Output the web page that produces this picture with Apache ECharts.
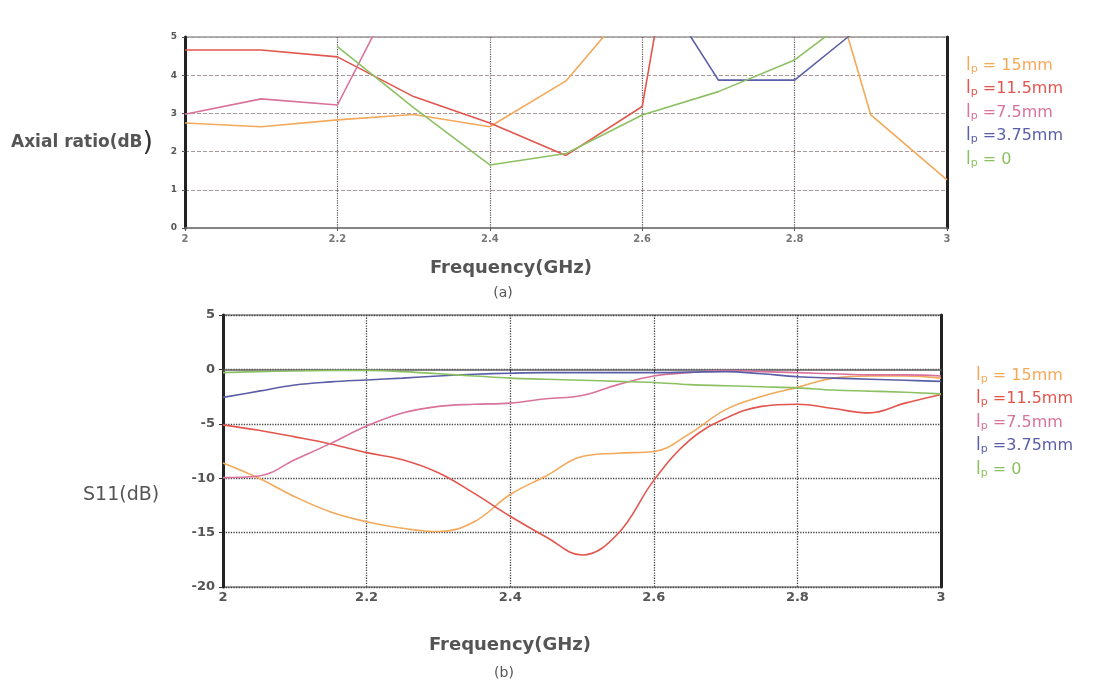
<!DOCTYPE html>
<html><head><meta charset="utf-8">
<script src="https://cdn.jsdelivr.net/npm/echarts@6/dist/echarts.min.js"></script>
<style>html,body{margin:0;padding:0;background:#fff}#c{width:1101px;height:686px}</style>
</head><body><div id="c"></div>
<script>
// Series names / legend labels
const seriesNames = ['lp = 15mm', 'lp =11.5mm', 'lp =7.5mm', 'lp =3.75mm', 'lp = 0'];
const legendSuffix = [' = 15mm', ' =11.5mm', ' =7.5mm', ' =3.75mm', ' = 0'];
const colors = ['#f3a95a', '#e2564e', '#d9729c', '#5a5ea6', '#8dc063'];

// (a) Axial ratio (dB) vs frequency (GHz); values above 5 run off the top of the plot
const arOrangeX = [2, 2.1, 2.2, 2.3, 2.4, 2.5, 2.6, 2.7, 2.8, 2.87, 2.9, 3];
const arOrangeY = [2.75, 2.65, 2.83, 2.97, 2.65, 3.85, 6.2, 6.5, 6.0, 5.0, 2.96, 1.26];
const arRedX = [2, 2.1, 2.2, 2.3, 2.4, 2.5, 2.6, 2.65];
const arRedY = [4.66, 4.66, 4.48, 3.44, 2.75, 1.9, 3.18, 8.9];
const arPinkX = [2, 2.1, 2.2, 2.3];
const arPinkY = [2.98, 3.38, 3.22, 7.1];
const arBlueX = [2.6, 2.7, 2.8, 2.87, 2.9];
const arBlueY = [7.0, 3.87, 3.87, 5.0, 5.4];
const arGreenX = [2.2, 2.3, 2.4, 2.5, 2.6, 2.7, 2.8, 2.9];
const arGreenY = [4.75, 3.15, 1.65, 1.95, 2.96, 3.57, 4.4, 5.9];

// (b) S11 (dB) vs frequency (GHz)
const s11Freq = [2, 2.05, 2.1, 2.15, 2.2, 2.25, 2.3, 2.35, 2.4, 2.45, 2.5, 2.55, 2.6, 2.65, 2.7, 2.75, 2.8, 2.85, 2.9, 2.95, 3];
const s11Orange = [-8.6, -10.0, -11.7, -13.1, -14.0, -14.6, -14.9, -14.0, -11.5, -9.8, -8.0, -7.7, -7.55, -5.9, -3.7, -2.5, -1.65, -0.8, -0.6, -0.6, -0.8];
const s11Red = [-5.1, -5.6, -6.2, -6.85, -7.65, -8.3, -9.5, -11.4, -13.5, -15.4, -17.06, -15.1, -10.2, -6.5, -4.5, -3.4, -3.2, -3.6, -4.0, -3.1, -2.3];
const s11Pink = [-9.95, -9.8, -8.3, -6.8, -5.2, -4.0, -3.4, -3.2, -3.1, -2.7, -2.4, -1.4, -0.6, -0.3, -0.1, -0.2, -0.3, -0.4, -0.5, -0.5, -0.6];
const s11Blue = [-2.57, -2.0, -1.43, -1.15, -0.97, -0.8, -0.6, -0.45, -0.35, -0.3, -0.3, -0.3, -0.3, -0.25, -0.2, -0.4, -0.67, -0.8, -0.9, -1.0, -1.1];
const s11Green = [-0.3, -0.2, -0.15, -0.1, -0.1, -0.2, -0.4, -0.6, -0.8, -0.9, -1.0, -1.1, -1.2, -1.4, -1.5, -1.6, -1.7, -1.9, -2.0, -2.1, -2.25];

// Tick labels
const freqTicks = ['2', '2.2', '2.4', '2.6', '2.8', '3'];

const zip = (xs, ys) => xs.map((x, i) => [x, ys[i]]);
const arX = [arOrangeX, arRedX, arPinkX, arBlueX, arGreenX];
const arY = [arOrangeY, arRedY, arPinkY, arBlueY, arGreenY];
const s11Y = [s11Orange, s11Red, s11Pink, s11Blue, s11Green];

const FONT = 'DejaVu Sans';
const chart = echarts.init(document.getElementById('c'), null, {renderer: 'canvas'});

function legendCfg(left, top) {
  const rich = {};
  colors.forEach((c, i) => {
    rich['l' + i] = {color: c, fontSize: 17, fontFamily: FONT};
    rich['p' + i] = {color: c, fontSize: 11, fontFamily: FONT, verticalAlign: 'bottom', padding: [7, 0, 0, 0]};
    rich['t' + i] = {color: c, fontSize: 16, fontFamily: FONT};
  });
  return {
    orient: 'vertical', left: left, top: top, icon: 'none', itemWidth: 0, itemHeight: 10, itemGap: 6,
    selectedMode: false,
    data: seriesNames.map((n, i) => ({name: n, textStyle: {color: colors[i]}})),
    formatter: name => { const i = seriesNames.indexOf(name); return '{l' + i + '|l}{p' + i + '|p}{t' + i + '|' + legendSuffix[i] + '}'; },
    textStyle: {rich: rich, fontFamily: FONT}
  };
}

const xLabelFmt = v => { const s = (Math.round(v * 10) / 10).toString(); return freqTicks.includes(s) ? s : ''; };

const option = {
  backgroundColor: '#fff',
  animation: false,
  legend: [legendCfg(956, 52), legendCfg(966, 362)],
  grid: [
    {left: 185, top: 37, width: 762, height: 191, show: true, borderColor: '#999', borderWidth: 1.5},
    {left: 223, top: 315, width: 718, height: 272, show: true, borderColor: '#888', borderWidth: 1.5}
  ],
  xAxis: [
    {type: 'value', gridIndex: 0, min: 2, max: 3, interval: 0.2,
     axisLine: {lineStyle: {color: '#777', width: 1.5}}, axisTick: {length: 3, lineStyle: {color: '#555'}},
     axisLabel: {fontSize: 10, fontWeight: 'bold', color: '#777', fontFamily: FONT, margin: 6, formatter: xLabelFmt},
     splitLine: {show: true, lineStyle: {type: 'dotted', color: '#555', width: 1.2}}},
    {type: 'value', gridIndex: 1, min: 2, max: 3, interval: 0.2,
     axisLine: {lineStyle: {color: '#666', width: 1.5}}, axisTick: {length: 3, lineStyle: {color: '#333'}},
     axisLabel: {fontSize: 13, fontWeight: 'bold', color: '#555', fontFamily: FONT, margin: 4, formatter: xLabelFmt},
     splitLine: {show: true, lineStyle: {type: 'dotted', color: '#444', width: 1.3}}}
  ],
  yAxis: [
    {type: 'value', gridIndex: 0, min: 0, max: 5, interval: 1,
     axisLine: {show: true, lineStyle: {color: '#222', width: 3}}, axisTick: {show: true, length: 3, lineStyle: {color: '#555'}},
     axisLabel: {fontSize: 9, fontWeight: 'bold', color: '#555', fontFamily: FONT, margin: 8},
     splitLine: {show: true, lineStyle: {type: 'dashed', color: '#a99', width: 1}}},
    {type: 'value', gridIndex: 0, min: 0, max: 5, interval: 1, position: 'right',
     axisLine: {show: true, lineStyle: {color: '#222', width: 3}}, axisTick: {show: false}, axisLabel: {show: false}, splitLine: {show: false}},
    {type: 'value', gridIndex: 1, min: -20, max: 5, interval: 5,
     axisLine: {show: true, lineStyle: {color: '#222', width: 3}}, axisTick: {show: true, length: 4, lineStyle: {color: '#333'}},
     axisLabel: {fontSize: 13, fontWeight: 'bold', color: '#555', fontFamily: FONT, margin: 8},
     splitLine: {show: true, lineStyle: {type: 'dotted', color: '#444', width: 1.3}}},
    {type: 'value', gridIndex: 1, min: -20, max: 5, interval: 5, position: 'right',
     axisLine: {show: true, lineStyle: {color: '#222', width: 3}}, axisTick: {show: false}, axisLabel: {show: false}, splitLine: {show: false}}
  ],
  series: [
    ...seriesNames.map((n, i) => ({
      name: n, type: 'line', xAxisIndex: 0, yAxisIndex: 0, data: zip(arX[i], arY[i]),
      showSymbol: false, clip: true, smooth: false, lineStyle: {color: colors[i], width: 1.6}, itemStyle: {color: colors[i]}
    })),
    ...seriesNames.map((n, i) => ({
      name: n, type: 'line', xAxisIndex: 1, yAxisIndex: 2, data: zip(s11Freq, s11Y[i]),
      showSymbol: false, clip: true, smooth: 0.4, lineStyle: {color: colors[i], width: 1.6}, itemStyle: {color: colors[i]}
    }))
  ],
  graphic: [
    {type: 'text', x: 11, y: 143, style: {text: '{a|Axial ratio(dB}{b|)}', verticalAlign: 'middle', rich: {
      a: {fontSize: 17, fontWeight: 'bold', fill: '#555', fontFamily: FONT},
      b: {fontSize: 27, fill: '#333', fontFamily: FONT}}}},
    {type: 'text', x: 511, y: 268, style: {text: 'Frequency(GHz)', align: 'center', verticalAlign: 'middle', fontSize: 18, fontWeight: 'bold', fill: '#555', fontFamily: FONT}},
    {type: 'text', x: 503, y: 293, style: {text: '(a)', align: 'center', verticalAlign: 'middle', fontSize: 14, fill: '#555', fontFamily: FONT}},
    {type: 'text', x: 83, y: 495, style: {text: 'S11(dB)', verticalAlign: 'middle', fontSize: 19, fill: '#555', fontFamily: FONT}},
    {type: 'text', x: 510, y: 645, style: {text: 'Frequency(GHz)', align: 'center', verticalAlign: 'middle', fontSize: 18, fontWeight: 'bold', fill: '#555', fontFamily: FONT}},
    {type: 'text', x: 504, y: 673, style: {text: '(b)', align: 'center', verticalAlign: 'middle', fontSize: 14, fill: '#555', fontFamily: FONT}}
  ]
};
chart.setOption(option);
</script></body></html>
